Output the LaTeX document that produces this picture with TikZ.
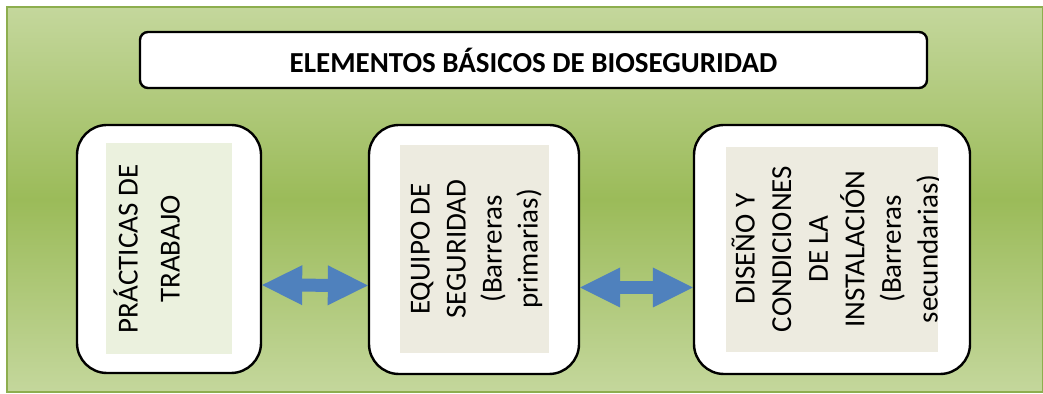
\documentclass[tikz,border=0pt]{standalone}
\usepackage{fontspec}
\setmainfont{Carlito}
\usetikzlibrary{arrows.meta}
\usetikzlibrary{positioning}
\definecolor{leaf}{HTML}{9BBB59}
\definecolor{leaflight}{HTML}{C4D79C}
\definecolor{leafline}{HTML}{8DAE4E}
\definecolor{paleleaf}{HTML}{EBF1DE}
\definecolor{paper}{HTML}{EDEBE0}
\definecolor{arrowblue}{HTML}{4F81BD}

\begin{document}
\begin{tikzpicture}[x=0.5pt,y=-0.5pt]
	\useasboundingbox[fill=white] (0,0) rectangle (1043,394);
	\path[top color=leaflight, bottom color=leaflight, middle color=leaf,
	      draw=leafline, line width=1pt] (7,7) rectangle (1043,392);

	\node[draw, line width=1.2pt, fill=white, rounded corners=4pt,
	      minimum width=393.5pt, minimum height=28pt,
	      font=\fontsize{14.5}{17}\selectfont\bfseries] (t) at (533.5,60) {ELEMENTOS BÁSICOS DE BIOSEGURIDAD};

	\begin{scope}[every node/.style={draw, line width=1.2pt, fill=white, rounded corners=15pt, inner sep=0pt}]
		\node[minimum width=92pt, minimum height=124pt] (1) at (169,249) {};
		\node[minimum width=105pt, minimum height=124.5pt] (2) at (474,249.5) {};
		\node[minimum width=138pt, minimum height=124.5pt] (3) at (832,249.5) {};
	\end{scope}

	\begin{scope}[every node/.style={inner sep=0pt}]
		\node[fill=paleleaf, minimum width=63pt, minimum height=105.5pt] (p1) at (1) {};
		\node[fill=paper, minimum width=74.5pt, minimum height=104pt] (p2) at (474.5,249) {};
		\node[fill=paper, minimum width=106pt, minimum height=102.5pt] (p3) at (3) {};
	\end{scope}

	\begin{scope}[every node/.style={rotate=90, align=center, inner sep=0pt}]
		\node[font=\fontsize{14.5}{21}\selectfont] (w1) at (146.5,249) {PRÁCTICAS DE\\TRABAJO};
		\node[font=\fontsize{14.5}{18}\selectfont] (w2) at (476.5,249) {EQUIPO DE\\SEGURIDAD\\(Barreras\\primarias)};
		\begin{scope}
			\clip (p3.south west) rectangle (p3.north east);
			\node[font=\fontsize{14.5}{18.3}\selectfont] (w3) at (836.5,249) {DISEÑO Y\\CONDICIONES\\DE LA\\INSTALACIÓN\\(Barreras\\secundarias)};
		\end{scope}
	\end{scope}

	\begin{scope}[>={Triangle[length=20pt, width=20pt, line width=0pt]},
	              every edge/.style={draw=arrowblue, line width=6.5pt, <->}]
		\path ([yshift=-18pt]1.east) edge ([yshift=-18pt]2.west);
		\path ([yshift=-19pt]2.east) edge ([yshift=-19pt]3.west);
	\end{scope}
\end{tikzpicture}
\end{document}
